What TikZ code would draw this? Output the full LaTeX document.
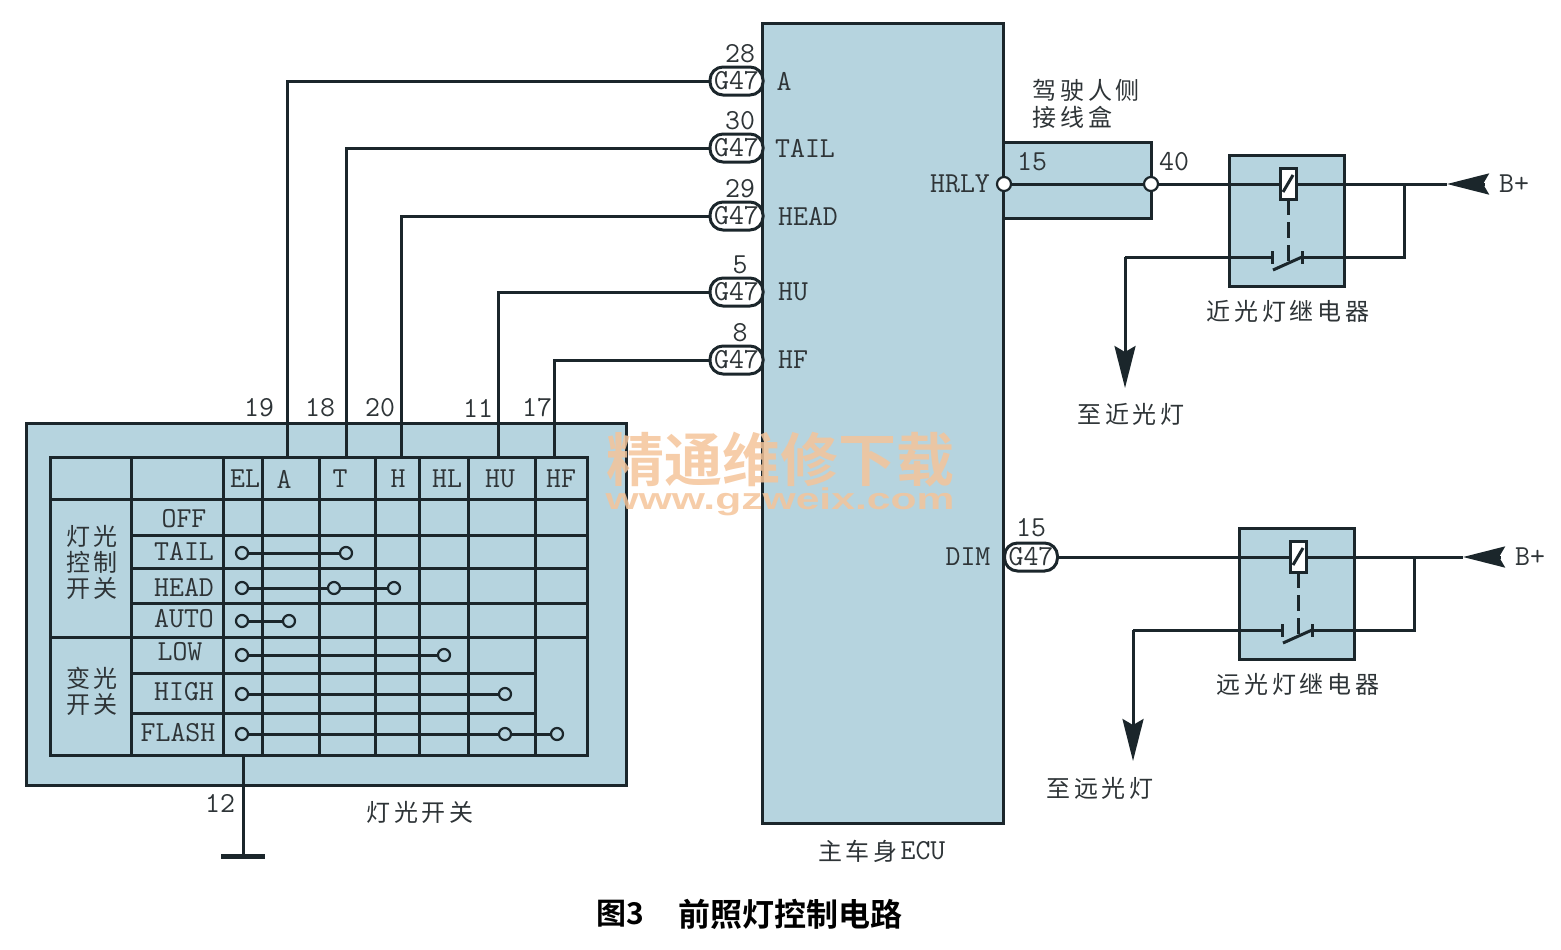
\documentclass[tikz,border=0pt]{standalone}
\usepackage{fontspec}
\usetikzlibrary{arrows.meta}
\newfontfamily\cjkfont[LetterSpace=16]{Noto Sans CJK SC}
\newfontfamily\cjkbold{Noto Sans CJK SC Bold}
\newfontfamily\markfont{Liberation Sans Bold}
\definecolor{panel}{HTML}{B6D4DF}
\definecolor{ink}{HTML}{1B262B}
\definecolor{txt}{HTML}{2E3437}
\definecolor{wmark}{HTML}{F4C49A}
\tikzset{
  wire/.style={draw=ink,line width=1.5pt},
  box/.style={draw=ink,line width=1.5pt,fill=panel},
  lab/.style={text=txt,font=\ttfamily\fontsize{14.5}{16}\selectfont,inner sep=0pt},
  cjk/.style={text=txt,font=\cjkfont\fontsize{12}{14}\selectfont,inner sep=0pt},
  pill/.style={draw=ink,line width=1.5pt,fill=white,rounded corners=6.5pt,minimum width=26.5pt,minimum height=14pt,
    inner sep=0pt,text=txt,font=\ttfamily\fontsize{14.5}{16}\selectfont},
  term/.style={circle,draw=ink,line width=1.1pt,fill=panel,minimum size=6pt,inner sep=0pt},
  pinend/.style={circle,draw=ink,line width=1.1pt,fill=white,minimum size=7pt,inner sep=0pt},
  barb/.style={-{Stealth[length=21pt,width=10.5pt,inset=3pt]},draw=ink,line width=1.5pt},
}
\begin{document}
\begin{tikzpicture}[x=0.5pt,y=-0.5pt]
  \useasboundingbox (0,0) rectangle (1561,949);

  % ECU and boxes
  \node[box,minimum width=120.5pt,minimum height=400pt,inner sep=0pt] (ecu) at (883,423) {};
  \node[box,minimum width=74pt,minimum height=38pt,inner sep=0pt] (jbox) at (1077,180) {};
  \node[box,minimum width=300pt,minimum height=181pt,inner sep=0pt] (switch) at (326,604) {};
  \node[cjk] (ecutxt) at (858,851) {主车身};
  \node[lab] (ecuname) at (923,851) {ECU};

  % switch grid
  \foreach \x in {131,223,262,319,375,419,468,535}
    \draw[wire] (\x,457) -- (\x,755);
  \foreach \y in {535,568,603}
    \draw[wire] (131,\y) -- (587,\y);
  \foreach \y in {673,713}
    \draw[wire] (131,\y) -- (535,\y);
  \draw[wire] (50,457) rectangle (587,755);
  \draw[wire] (50,499) -- (587,499);
  \draw[wire] (50,637) -- (587,637);

  % connectors on the ECU
  \foreach \name/\yy/\pin/\sig/\sx/\xx/\num/\nx in {
      A/81/28/A/784/287/19/259,
      T/148/30/TAIL/805/346/18/320,
      H/216/29/HEAD/808/401/20/380,
      U/292/5/HU/793/498/11/478,
      F/360/8/HF/793/554/17/537}{
    \node[pill] (con\name) at (736.5,\yy) {G47};
    \node[lab] (pin\name) at (740,\yy-27) {\pin};
    \node[lab] (sig\name) at (\sx,\yy) {\sig};
    \node[lab] (num\name) at (\nx,408) {\num};
    \coordinate (top\name) at (\xx,457);
    \draw[wire] (con\name.west) -| (top\name);
  }

  % table texts
  \foreach \name/\xx/\txt in {EL/245/EL,AA/284/A,TT/340/T,HH/398/H,HL/447/HL,HU/500/HU,HF/561/HF}
    \node[lab] (col\name) at (\xx,479) {\txt};
  \foreach \name/\xx/\yy in {OFF/184/519,TAIL/184/551,HEAD/184/587,AUTO/184/619,LOW/180/652,HIGH/184/692,FLASH/178/733}
    \node[lab] (row\name) at (\xx,\yy) {\name};
  \node[cjk] (lamp1) at (92,536) {灯光};
  \node[cjk] (lamp2) at (92,562) {控制};
  \node[cjk] (lamp3) at (92,588) {开关};
  \node[cjk] (dim1) at (92,678) {变光};
  \node[cjk] (dim2) at (92,704) {开关};

  % switch positions
  \foreach \name/\yy/\xb in {a/553/346,b/588/394,c/621/289,d/655/444,e/694/505,f/734/557}{
    \node[term] (\name0) at (242,\yy) {};
    \node[term] (\name1) at (\xb,\yy) {};
    \draw[wire] (\name0) -- (\name1);
  }
  \node[term] (b2) at (334,588) {};
  \node[term] (f2) at (505,734) {};

  % ground
  \coordinate (gndtop) at (243,755);
  \coordinate (gnd) at (243,856);
  \coordinate (gndl) at (221,856);
  \coordinate (gndr) at (265,856);
  \draw[wire] (gndtop) -- (gnd);
  \draw[draw=ink,line width=2.5pt] (gndl) -- (gndr);
  \node[lab] (pin12) at (220,803) {12};
  \node[cjk] (swtxt) at (420,812) {灯光开关};

  % junction box side
  \node[cjk,anchor=west] (jb1) at (1032,90) {驾驶人侧};
  \node[cjk,anchor=west] (jb2) at (1032,117) {接线盒};
  \node[lab] (hrly) at (960,184) {HRLY};
  \node[lab] (pin15) at (1032,162) {15};
  \node[lab] (pin40) at (1174,162) {40};
  \node[pinend] (je) at (1004,184) {};
  \node[pinend] (jo) at (1151,184) {};
  \draw[wire] (je) -- (jo);

  % lower feed
  \node[lab] (dimsig) at (968,557) {DIM};
  \node[lab] (pindim) at (1031,528) {15};
  \node[pill] (condim) at (1031,557) {G47};

  % the two relays
  \foreach \name/\dx/\dy/\bx/\wx/\rtxt in {
      lo/0/0/0/0/近光灯继电器,
      hi/10/373/6/-2/远光灯继电器}{
    \begin{scope}[shift={(\dx*0.5pt,-\dy*0.5pt)}]
      \node[box,minimum width=57.5pt,minimum height=65.5pt,inner sep=0pt] (rel\name) at (1286.5,220.5) {};
      \node[cjk] (rtxt\name) at (1288,311) {\rtxt};
      \coordinate (in\name) at (1280,184);
      \coordinate (out\name) at (1296,184);
      \coordinate (tip\name) at (1447+\bx,184);
      \coordinate (end\name) at (1485+\bx,184);
      \coordinate (tee\name) at (1404,184);
      \coordinate (back\name) at (1404,257);
      \coordinate (cl\name) at (1272,257);
      \coordinate (cr\name) at (1302,257);
      \coordinate (down\name) at (1125+\wx,257);
      \coordinate (arr\name) at (1125+\wx,388);
      \node[lab] (bplus\name) at (1514+\bx,184) {B+};
      \draw[wire] (out\name) -- (tip\name);
      \draw[barb] (end\name) -- (tip\name);
      \draw[wire] (tee\name) -- (back\name) -- (cr\name);
      \draw[wire] (cl\name) -- (down\name);
      \draw[barb] (down\name) -- (arr\name);
      \draw[wire] (1272,251) -- (1272,264);
      \draw[wire] (1302,251) -- (1302,264);
      \draw[wire] (1273,270) -- (cr\name);
      \draw[wire,dashed,dash pattern=on 8pt off 3.5pt] (1288,199) -- (1288,262);
      \node[draw=ink,line width=1.5pt,fill=white,minimum width=8pt,minimum height=15.5pt,inner sep=0pt] (coil\name) at (1288,183.5) {};
      \draw[wire] (1283,192) -- (1293,175);
    \end{scope}
  }
  \node[cjk] (tolo) at (1131,414) {至近光灯};
  \node[cjk] (tohi) at (1100,788) {至远光灯};
  \draw[wire] (jo) -- (inlo);
  \draw[wire] (condim) -- (inhi);

  % caption
  \node[inner sep=0pt,font=\cjkbold\fontsize{15}{18}\selectfont,text=black] (figno) at (620,914) {图3};
  \node[inner sep=0pt,font=\cjkbold\fontsize{16}{18}\selectfont,text=black] (figtxt) at (790,914) {前照灯控制电路};

  % watermark
  \node[inner sep=0pt,opacity=.85,text=wmark,font=\cjkbold\fontsize{29}{32}\selectfont] (wm1) at (780,460) {精通维修下载};
  \node[inner sep=0pt,opacity=.85,text=wmark,font=\markfont\fontsize{15}{18}\selectfont] (wm2) at (780,502) {\scalebox{1.42}[1]{www.gzweix.com}};
\end{tikzpicture}
\end{document}
